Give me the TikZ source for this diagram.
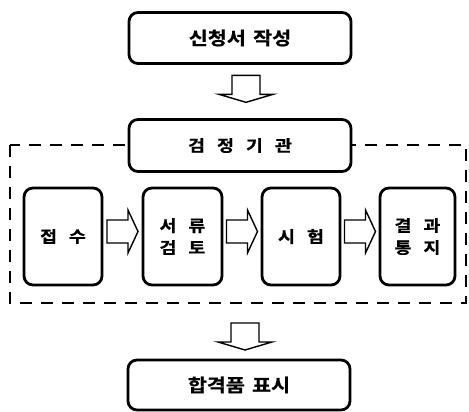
\documentclass[tikz,border=0pt]{standalone}
\usepackage{fontspec}
\usetikzlibrary{calc}
\newfontfamily\kr{Noto Sans CJK KR}[BoldFont={Noto Sans CJK KR Bold},BoldFeatures={FakeStretch=1.15,FakeBold=0.8}]
\newcommand{\gp}{\hspace{0.75em}}
\begin{document}
\begin{tikzpicture}[x=1pt,y=-1pt,
  box/.style={draw=black,line width=2.8pt,rounded corners=9pt,fill=white,inner sep=0pt,
    font=\kr\bfseries\fontsize{16}{22}\selectfont,align=center},
  widetext/.style={font=\kr\bfseries\fontsize{18}{22}\selectfont},
  blockarrow/.style={draw=black,line width=1.4pt,fill=white,line join=miter},
  downarrow/.pic={\draw[blockarrow] (-14,-13.5) -- (-14,5.5) -- (-27,5.5) -- (0,13.5) -- (27,5.5) -- (14,5.5) -- (14,-13.5) -- cycle;},
  rightarrow/.pic={\draw[blockarrow] (-15.5,-11.5) -- (5.5,-11.5) -- (5.5,-21.5) -- (15.5,0) -- (5.5,21.5) -- (5.5,11.5) -- (-15.5,11.5) -- cycle;}]
\useasboundingbox (0,0) rectangle (469,412);
% dashed frame
\draw[line width=1.8pt,dash pattern=on 12pt off 9pt] (10,145) rectangle (466,303);
% main boxes
\node[box,widetext,minimum width=222pt,minimum height=51pt] (apply) at (240,38) {신청서\hspace{0.4em}작성};
\node[box,minimum width=222pt,minimum height=52pt] (agency) at (240,145.5) {검\gp 정\gp 기\gp 관};
\node[box,widetext,minimum width=222pt,minimum height=50pt] (mark) at (239,385) {합격품\hspace{0.4em}표시};
% inner boxes
\node[box,minimum width=78pt,minimum height=97pt] (recv) at (63,236.5) {접\gp 수};
\node[box,minimum width=79pt,minimum height=97pt] (doc) at (182.5,236.5) {서\gp 류\\검\gp 토};
\node[box,minimum width=78pt,minimum height=97pt] (test) at (301,236.5) {시\gp 험};
\node[box,minimum width=75pt,minimum height=97pt] (result) at (417.5,236.5) {결\gp 과\\통\gp 지};
% block arrows between nodes
\pic at ($(apply.south)!0.45!(agency.north)+(6,0)$) {downarrow};
\pic at (245,336.5) {downarrow};
\pic at ($(recv.east)!0.5!(doc.west)+(0,-5)$) {rightarrow};
\pic at ($(doc.east)!0.5!(test.west)+(0,-5)$) {rightarrow};
\pic at ($(test.east)!0.5!(result.west)+(0,-5)$) {rightarrow};
\end{tikzpicture}
\end{document}
